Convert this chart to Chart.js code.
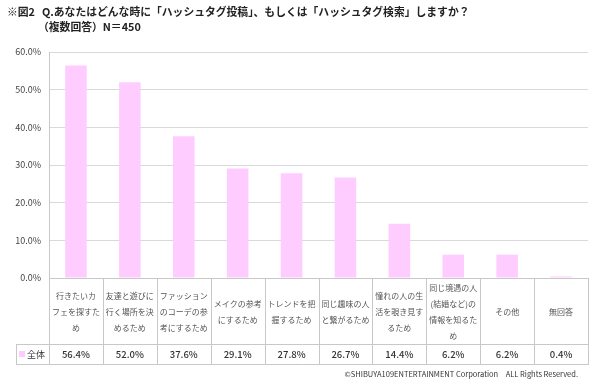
<!DOCTYPE html>
<html><head><meta charset="utf-8">
<script src="https://cdn.jsdelivr.net/npm/chart.js@4"></script>
<style>html,body{margin:0;padding:0;background:#fff}#wrap{width:600px;height:390px;position:relative}</style>
</head><body><div id="wrap"><canvas id="c" width="600" height="390"></canvas></div>
<script>
const categories = [
  ['行きたいカ','フェを探すた','め'],
  ['友達と遊びに','行く場所を決','めるため'],
  ['ファッション','のコーデの参','考にするため'],
  ['メイクの参考','にするため'],
  ['トレンドを把','握するため'],
  ['同じ趣味の人','と繋がるため'],
  ['憧れの人の生','活を覗き見す','るため'],
  ['同じ境遇の人','(結婚など)の','情報を知るた','め'],
  ['その他'],
  ['無回答']
];
const seriesName = '全体';
const values = [56.4, 52.0, 37.6, 29.1, 27.8, 26.7, 14.4, 6.2, 6.2, 0.4];
const yTickLabels = ['0.0%','10.0%','20.0%','30.0%','40.0%','50.0%','60.0%'];
const titleMark = '※図2';
const titleLine1 = 'Q.あなたはどんな時に「ハッシュタグ投稿」、もしくは「ハッシュタグ検索」しますか？';
const titleLine2 = '（複数回答）N＝450';
const copyright = '©SHIBUYA109ENTERTAINMENT Corporation　ALL Rights Reserved.';

const FONT = '"Noto Sans CJK JP", "Noto Sans", sans-serif';
const PINK = '#FFCCFF';
const LINE = '#c8c8c8';

const tablePlugin = {
  id: 'tablePlugin',
  afterDraw(chart) {
    const ctx = chart.ctx;
    const ca = chart.chartArea;
    const xs = chart.scales.x;
    const n = categories.length;
    const w = (ca.right - ca.left) / n;
    const top = ca.bottom;
    const rowTop = top + 66;
    const rowBot = rowTop + 20;
    const leftCell = 16;
    ctx.save();
    ctx.strokeStyle = LINE;
    ctx.lineWidth = 1;
    ctx.beginPath();
    for (let i = 0; i <= n; i++) {
      const x = Math.round(ca.left + i * w) + 0.5;
      ctx.moveTo(x, top); ctx.lineTo(x, rowBot);
    }
    ctx.moveTo(leftCell + 0.5, rowTop); ctx.lineTo(leftCell + 0.5, rowBot);
    ctx.moveTo(leftCell, rowTop + 0.5); ctx.lineTo(ca.right + 1, rowTop + 0.5);
    ctx.moveTo(leftCell, rowBot + 0.5); ctx.lineTo(ca.right + 1, rowBot + 0.5);
    ctx.stroke();
    // legend
    ctx.fillStyle = PINK;
    ctx.fillRect(leftCell + 3, rowTop + 7, 6, 6);
    ctx.fillStyle = '#333';
    ctx.font = '9px ' + FONT;
    ctx.textBaseline = 'middle';
    ctx.textAlign = 'left';
    ctx.fillText(seriesName, leftCell + 11, rowTop + 10.5);
    ctx.textAlign = 'center';
    ctx.font = '500 9.5px ' + FONT;
    values.forEach((v, i) => {
      ctx.fillText(v.toFixed(1) + '%', xs.getPixelForValue(i), rowTop + 10.5);
    });
    // title
    ctx.fillStyle = '#222';
    ctx.textAlign = 'left';
    ctx.font = 'bold 10.8px ' + FONT;
    ctx.fillText(titleMark, 7, 12);
    ctx.fillText(titleLine1, 42, 12);
    ctx.fillText(titleLine2, 38, 27);
    // copyright
    ctx.font = '7.5px ' + FONT;
    ctx.textAlign = 'right';
    ctx.fillStyle = '#333';
    ctx.fillText(copyright, 578, 374);
    ctx.restore();
  }
};

new Chart(document.getElementById('c'), {
  type: 'bar',
  data: {
    labels: categories,
    datasets: [{
      label: seriesName,
      data: values,
      backgroundColor: PINK,
      borderWidth: 0,
      barPercentage: 0.40,
      categoryPercentage: 1.0
    }]
  },
  options: {
    responsive: false,
    animation: false,
    events: [],
    layout: { padding: { left: 0, right: 12, top: 52, bottom: 28 } },
    plugins: { legend: { display: false }, tooltip: { enabled: false }, title: { display: false } },
    scales: {
      x: {
        grid: { display: true, drawOnChartArea: false, drawTicks: false, color: LINE },
        border: { display: true, color: LINE },
        ticks: {
          color: '#555',
          font: { family: FONT, size: 8, lineHeight: 2.0 },
          padding: 10,
          maxRotation: 0,
          minRotation: 0,
          autoSkip: false,
          crossAlign: 'center'
        }
      },
      y: {
        min: 0, max: 60,
        afterFit(s) { s.width = 49; },
        grid: { color: '#d9d9d9', drawTicks: false },
        border: { display: true, color: LINE },
        ticks: {
          stepSize: 10,
          padding: 8,
          color: '#444',
          font: { family: FONT, size: 9 },
          callback: (v, i) => yTickLabels[i]
        }
      }
    }
  },
  plugins: [tablePlugin]
});
</script></body></html>
